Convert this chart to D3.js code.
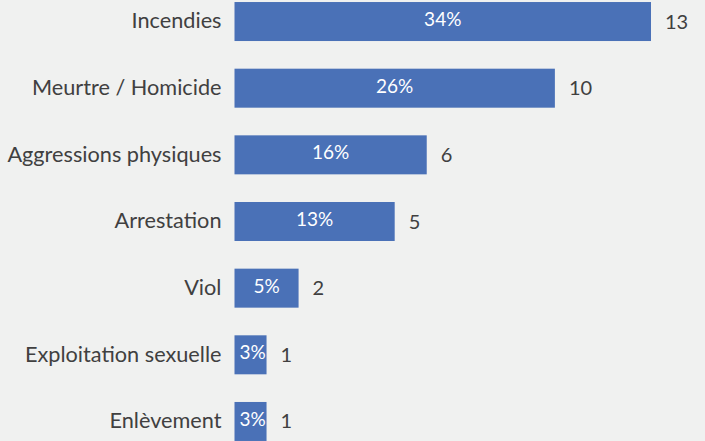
<!DOCTYPE html>
<html><head><meta charset="utf-8">
<script src="https://cdn.jsdelivr.net/npm/d3@7"></script>
<style>
html,body{margin:0;padding:0;background:#f0f1f0;}
svg{display:block;}
</style></head>
<body>
<svg id="chart" width="705" height="441"></svg>
<script>
const categories = ["Incendies","Meurtre / Homicide","Aggressions physiques","Arrestation","Viol","Exploitation sexuelle","Enlèvement"];
const counts = [13,10,6,5,2,1,1];
const percents = ["34%","26%","16%","13%","5%","3%","3%"];

const W = 705, H = 441;
const svg = d3.select("#chart");
svg.append("rect").attr("width",W).attr("height",H).attr("fill","#f0f1f0");

const x = d3.scaleLinear().domain([0,13]).range([234.5,651]);
const y = d3.scaleBand().domain(categories).range([-11.8,454.8]).paddingInner(0.415).paddingOuter(0.2075);

const font = "Lato, 'Open Sans', sans-serif";
const data = categories.map((c,i)=>({c, v:counts[i], p:percents[i]}));

svg.append("defs").selectAll("clipPath").data(data).join("clipPath")
  .attr("id",(d,i)=>"clip"+i)
  .append("rect")
  .attr("x",x(0)).attr("y",d=>y(d.c))
  .attr("width",d=>x(d.v)-x(0)).attr("height",y.bandwidth());

const g = svg.append("g");
g.selectAll("rect.bar").data(data).join("rect").attr("class","bar")
  .attr("x",x(0)).attr("y",d=>y(d.c))
  .attr("width",d=>x(d.v)-x(0)).attr("height",y.bandwidth())
  .attr("fill","#4a71b7");

g.selectAll("text.pct").data(data).join("text").attr("class","pct")
  .attr("clip-path",(d,i)=>`url(#clip${i})`)
  .attr("x",d=>(x(0)+x(d.v))/2 + (d.v<2?2:0))
  .attr("y",d=>y(d.c)+y.bandwidth()/2-2)
  .attr("dy","0.35em")
  .attr("text-anchor","middle")
  .attr("fill","#ffffff")
  .attr("font-family",font).attr("font-size",19)
  .text(d=>d.p);

g.selectAll("text.val").data(data).join("text").attr("class","val")
  .attr("x",d=>x(d.v)+14)
  .attr("y",d=>y(d.c)+y.bandwidth()/2)
  .attr("dy","0.35em")
  .attr("fill","#404040")
  .attr("font-family",font).attr("font-size",20)
  .text(d=>d.v);

const yAxis = d3.axisLeft(y).tickSize(0).tickPadding(13);
const ax = svg.append("g").attr("transform",`translate(${x(0)},0)`).call(yAxis);
ax.select(".domain").remove();
ax.selectAll("text").attr("font-family",font).attr("font-size",21.7).attr("fill","#404040");
</script>
</body></html>
